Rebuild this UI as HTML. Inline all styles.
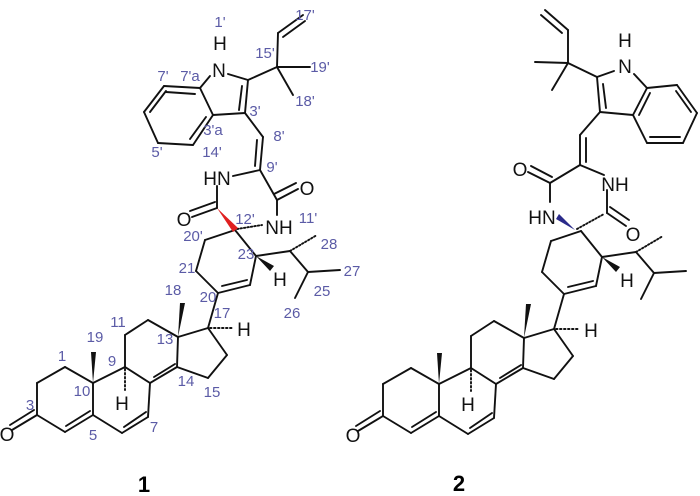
<!DOCTYPE html>
<html><head><meta charset="utf-8"><style>
body{margin:0;background:#fff;width:700px;height:496px;overflow:hidden}
svg{display:block}
.b line,.b polyline{stroke:#111;stroke-width:1.9;fill:none;stroke-linecap:round}
.a{font-family:"Liberation Sans",Arial,sans-serif;font-size:19px;fill:#111;text-anchor:middle}
.l{font-family:"Liberation Sans",Arial,sans-serif;font-size:15px;fill:#5b5ba6;text-anchor:middle}
</style></head><body>
<svg width="700" height="496" viewBox="0 0 700 496" xmlns="http://www.w3.org/2000/svg">
<defs>
<g id="core" class="b">
<line x1="235" y1="230" x2="205" y2="240"/><line x1="205" y1="240" x2="196" y2="271"/>
<line x1="196" y1="271" x2="218" y2="293"/><line x1="218" y1="293" x2="250" y2="285"/>
<line x1="222" y1="286" x2="247" y2="280"/>
<line x1="250" y1="285" x2="256" y2="256"/><line x1="256" y1="256" x2="235" y2="230"/>
<polygon points="256,256 270,271 274,266" fill="#111" stroke="none"/>
<line x1="256" y1="256" x2="290" y2="251"/>
<line x1="290" y1="251" x2="317" y2="235" stroke-dasharray="1.5 2" stroke-width="3"/>
<line x1="290" y1="251" x2="308" y2="272"/><line x1="308" y1="272" x2="340" y2="270"/>
<line x1="308" y1="272" x2="295" y2="298"/>
<line x1="218" y1="293" x2="208" y2="328"/>
<line x1="208" y1="328" x2="178" y2="337"/>
<polygon points="178,337 180,303 185,303" fill="#111" stroke="none"/>
<line x1="178" y1="337" x2="148" y2="320"/><line x1="148" y1="320" x2="125" y2="335"/>
<line x1="125" y1="335" x2="125" y2="367"/><line x1="125" y1="367" x2="150" y2="383"/>
<line x1="150" y1="383" x2="177" y2="367"/><line x1="154" y1="377" x2="175" y2="364"/>
<line x1="177" y1="367" x2="178" y2="337"/><line x1="177" y1="367" x2="208" y2="378"/>
<line x1="208" y1="378" x2="227" y2="355"/><line x1="227" y1="355" x2="208" y2="328"/>
<line x1="125" y1="367" x2="93" y2="383"/>
<polygon points="93,383 91,352 96,352" fill="#111" stroke="none"/>
<line x1="93" y1="383" x2="65" y2="367"/><line x1="65" y1="367" x2="37" y2="383"/>
<line x1="37" y1="383" x2="37" y2="415"/><line x1="37" y1="415" x2="12" y2="430"/>
<line x1="34" y1="410" x2="10" y2="425"/>
<line x1="37" y1="415" x2="65" y2="432"/><line x1="65" y1="432" x2="93" y2="415"/>
<line x1="66" y1="426" x2="90" y2="411"/>
<line x1="93" y1="415" x2="93" y2="383"/><line x1="93" y1="415" x2="122" y2="433"/>
<line x1="122" y1="433" x2="148" y2="417"/><line x1="124" y1="427" x2="146" y2="412"/>
<line x1="148" y1="417" x2="150" y2="383"/>
<line x1="125" y1="369" x2="125" y2="390" stroke-dasharray="1.5 2.5" stroke-width="3"/>
<line x1="210" y1="328" x2="232" y2="328" stroke-dasharray="1.5 2.5" stroke-width="3"/>
</g>
</defs>
<use href="#core"/>
<use href="#core" transform="translate(346,1)"/>

<g class="b">
<line x1="164" y1="86" x2="200" y2="88"/><line x1="200" y1="88" x2="213" y2="115"/>
<line x1="213" y1="115" x2="193" y2="145"/><line x1="193" y1="145" x2="158" y2="143"/>
<line x1="158" y1="143" x2="144" y2="112"/><line x1="144" y1="112" x2="164" y2="86"/>
<line x1="166" y1="92" x2="195" y2="94"/><line x1="206" y1="117" x2="190" y2="139"/><line x1="150" y1="112" x2="166" y2="91"/>
<line x1="200" y1="88" x2="210" y2="76"/><line x1="228" y1="74" x2="248" y2="80"/>
<line x1="248" y1="80" x2="245" y2="113"/><line x1="242" y1="86" x2="239" y2="110"/>
<line x1="245" y1="113" x2="213" y2="115"/>
<line x1="248" y1="80" x2="277" y2="67"/><line x1="277" y1="67" x2="278" y2="33"/>
<line x1="278" y1="33" x2="303" y2="15"/><line x1="283" y1="37" x2="305" y2="21"/>
<line x1="277" y1="67" x2="310" y2="67"/><line x1="277" y1="67" x2="293" y2="95"/>
<line x1="245" y1="113" x2="263" y2="137"/><line x1="263" y1="137" x2="260" y2="170"/>
<line x1="257" y1="140" x2="255" y2="166"/>
<line x1="260" y1="170" x2="233" y2="176"/><line x1="260" y1="170" x2="277" y2="200"/>
<line x1="277" y1="200" x2="298" y2="189"/><line x1="274" y1="194" x2="296" y2="183"/>
<line x1="277" y1="200" x2="277" y2="215"/>
<line x1="217" y1="186" x2="217" y2="208"/>
<line x1="217" y1="208" x2="192" y2="217"/><line x1="215" y1="202" x2="190" y2="211"/>
<line x1="237" y1="229" x2="262" y2="225" stroke="#d22" stroke-dasharray="1.5 2" stroke-width="3.5"/>
</g>
<polygon points="217,208 233,232 238,228" fill="#e02020"/>
<text class="a" x="219" y="77">N</text><text class="a" x="220" y="50">H</text>
<text class="a" x="217" y="185">HN</text><text class="a" x="307" y="195">O</text>
<text class="a" x="279" y="234">NH</text><text class="a" x="184" y="226">O</text>
<text class="a" x="280" y="286">H</text><text class="a" x="244" y="336">H</text>
<text class="a" x="122" y="410">H</text><text class="a" x="7" y="441">O</text>
<g class="l">
<text x="220" y="27">1'</text><text x="305" y="20">17'</text><text x="265" y="58">15'</text>
<text x="320" y="72">19'</text><text x="305" y="106">18'</text><text x="163" y="81">7'</text>
<text x="190" y="81">7'a</text><text x="255" y="116">3'</text><text x="213" y="135">3'a</text>
<text x="279" y="141">8'</text><text x="157" y="157">5'</text><text x="212" y="157">14'</text>
<text x="272" y="172">9'</text><text x="308" y="223">11'</text><text x="245" y="224">12'</text>
<text x="193" y="241">20'</text><text x="329" y="249">28</text><text x="187" y="273">21</text>
<text x="246" y="259">23</text><text x="352" y="276">27</text><text x="322" y="296">25</text>
<text x="208" y="302">20</text><text x="292" y="318">26</text><text x="173" y="295">18</text>
<text x="222" y="318">17</text><text x="118" y="327">11</text><text x="95" y="342">19</text>
<text x="62" y="361">1</text><text x="112" y="366">9</text><text x="165" y="344">13</text>
<text x="82" y="396">10</text><text x="186" y="386">14</text><text x="212" y="397">15</text>
<text x="30" y="410">3</text><text x="93" y="440">5</text><text x="154" y="432">7</text>
</g>
<text x="144" y="492" style="font:bold 22px 'Liberation Sans',Arial,sans-serif;text-anchor:middle">1</text>

<g class="b">
<line x1="647" y1="88" x2="677" y2="85"/><line x1="677" y1="85" x2="697" y2="113"/>
<line x1="697" y1="113" x2="683" y2="143"/><line x1="683" y1="143" x2="647" y2="143"/>
<line x1="647" y1="143" x2="633" y2="115"/><line x1="633" y1="115" x2="647" y2="88"/>
<line x1="676" y1="91" x2="691" y2="112"/><line x1="680" y1="137" x2="650" y2="137"/><line x1="639" y1="115" x2="650" y2="93"/>
<line x1="647" y1="88" x2="634" y2="74"/><line x1="614" y1="71" x2="597" y2="77"/>
<line x1="597" y1="77" x2="600" y2="112"/><line x1="603" y1="84" x2="606" y2="108"/>
<line x1="600" y1="112" x2="633" y2="115"/>
<line x1="597" y1="77" x2="568" y2="63"/><line x1="568" y1="63" x2="568" y2="30"/>
<line x1="568" y1="30" x2="545" y2="10"/><line x1="562" y1="33" x2="541" y2="15"/>
<line x1="568" y1="63" x2="535" y2="62"/><line x1="568" y1="63" x2="552" y2="90"/>
<line x1="600" y1="112" x2="580" y2="135"/><line x1="580" y1="135" x2="580" y2="165"/>
<line x1="586" y1="138" x2="586" y2="162"/>
<line x1="580" y1="165" x2="604" y2="175"/><line x1="580" y1="165" x2="550" y2="183"/>
<line x1="550" y1="183" x2="528" y2="172"/><line x1="552" y1="177" x2="531" y2="166"/>
<line x1="550" y1="183" x2="550" y2="202"/>
<line x1="607" y1="190" x2="607" y2="213"/>
<line x1="607" y1="213" x2="626" y2="226"/><line x1="610" y1="207" x2="629" y2="220"/>
<line x1="577" y1="229" x2="604" y2="214" stroke="#3a3a9a" stroke-dasharray="1.5 2" stroke-width="3.5"/>
</g>
<polygon points="575,230 556,219 559,214" fill="#2a2a8a"/>
<text class="a" x="625" y="73">N</text><text class="a" x="625" y="47">H</text>
<text class="a" x="615" y="191">NH</text><text class="a" x="520" y="176">O</text>
<text class="a" x="542" y="224">HN</text><text class="a" x="633" y="241">O</text>
<text class="a" x="627" y="287">H</text><text class="a" x="591" y="337">H</text>
<text class="a" x="468" y="411">H</text><text class="a" x="353" y="442">O</text>
<text x="459" y="491" style="font:bold 22px 'Liberation Sans',Arial,sans-serif;text-anchor:middle">2</text>
</svg>
</body></html>
